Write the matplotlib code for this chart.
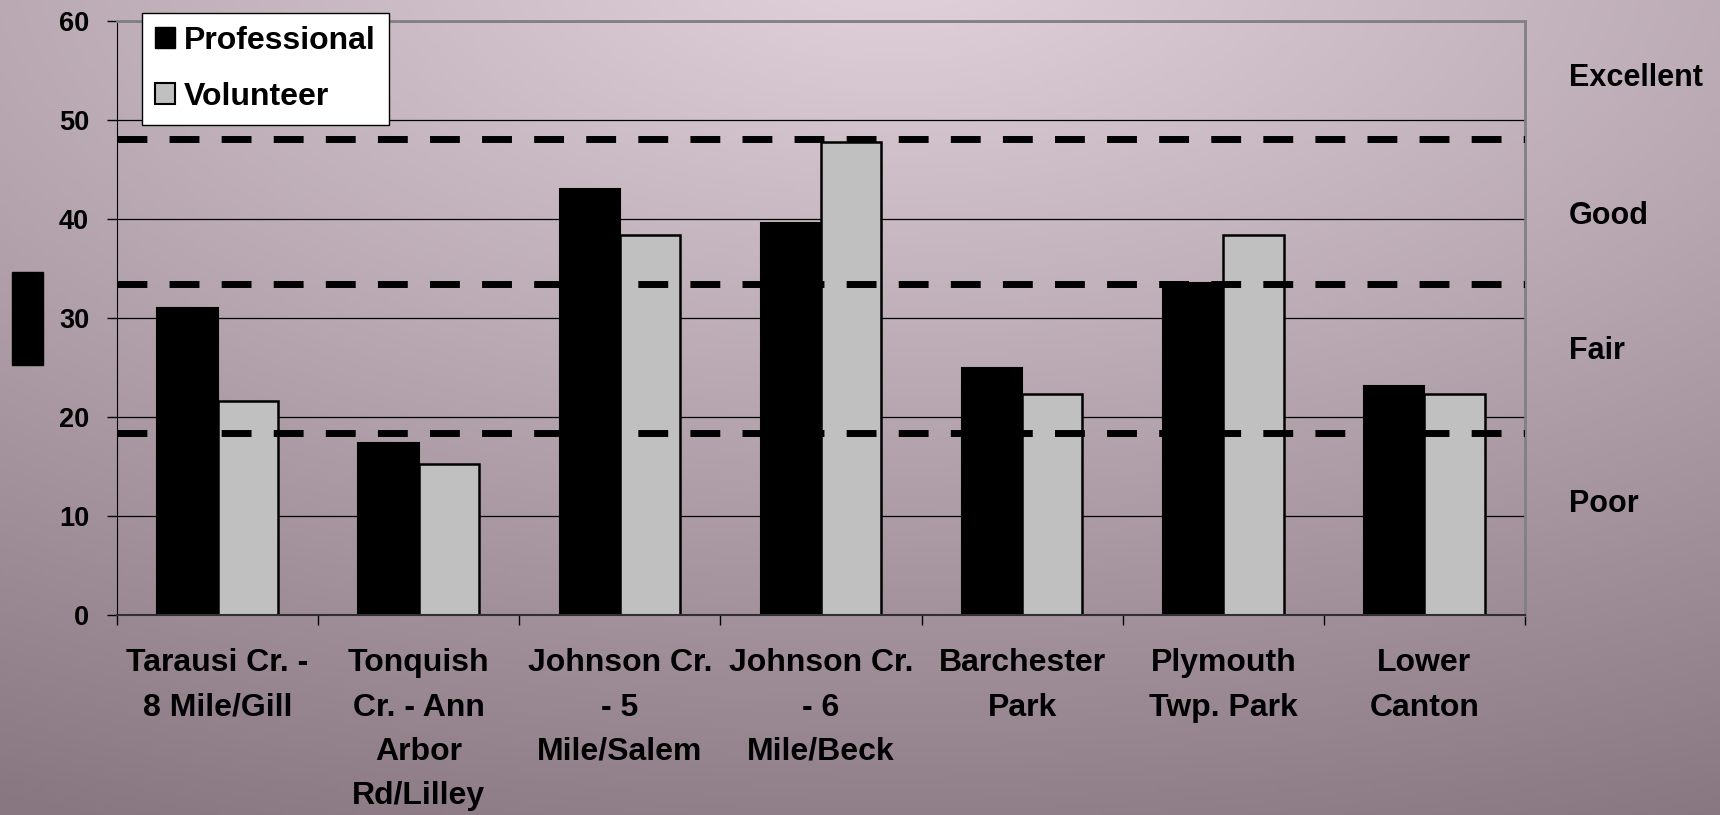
import numpy as np
import matplotlib
matplotlib.use("Agg")
import matplotlib.pyplot as plt
from matplotlib.patches import Patch, Rectangle

plt.rcParams['font.family'] = ['Liberation Sans', 'DejaVu Sans']
plt.rcParams['font.weight'] = 'bold'

# data
sites = ["Tarausi Cr. -\n8 Mile/Gill", "Tonquish\nCr. - Ann\nArbor\nRd/Lilley",
         "Johnson Cr.\n- 5\nMile/Salem", "Johnson Cr.\n- 6\nMile/Beck",
         "Barchester\nPark", "Plymouth\nTwp. Park", "Lower\nCanton"]
professional = [31.0, 17.4, 43.0, 39.6, 25.0, 33.5, 23.1]
volunteer = [21.6, 15.3, 38.4, 47.8, 22.3, 38.4, 22.3]
thresholds = [48.1, 33.4, 18.4]
ratings = ["Excellent", "Good", "Fair", "Poor"]
rating_y = [54.2, 40.3, 26.7, 11.2]
yticks = [0, 10, 20, 30, 40, 50, 60]

W, H = 1720, 815
fig = plt.figure(figsize=(W / 100, H / 100), dpi=100)

# background gradient
bg = fig.add_axes([0, 0, 1, 1], zorder=-10)
u, v = np.meshgrid(np.linspace(0, 1, 400), np.linspace(0, 1, 200))
d = np.sqrt((u - 0.52) ** 2 + (v + 0.05) ** 2)
t = np.clip(d / 1.16, 0, 1)[..., None]
light = np.array([226, 211, 221]) / 255
dark = np.array([136, 118, 128]) / 255
bg.imshow(light + (dark - light) * t, aspect='auto', extent=[0, 1, 0, 1], origin='upper')
bg.axis('off')

ax = fig.add_axes([117 / W, 1 - 615 / H, (1525 - 117) / W, (615 - 21) / H])
ax.set_facecolor('none')

x = np.arange(len(sites))
w = 0.30
ax.bar(x - w / 2, professional, w, color='black', edgecolor='black', linewidth=1.5,
       zorder=2, label='Professional')
ax.bar(x + w / 2, volunteer, w, color='#c0c0c0', edgecolor='black', linewidth=1.8,
       zorder=2, label='Volunteer')

for th in thresholds:
    ax.axhline(th, color='black', linewidth=5, dashes=(4.3, 3.2), zorder=3)

ax.set_xlim(-0.5, len(sites) - 0.5)
ax.set_ylim(0, 60)
ax.set_yticks(yticks)
ax.yaxis.grid(True, color='black', linewidth=0.9, zorder=0)
ax.set_axisbelow(True)
ax.tick_params(axis='y', direction='out', length=7, width=1, pad=13, labelsize=19.5)

ax.set_xticks(x)
ax.set_xticklabels(sites, fontsize=23, linespacing=1.62, va='top')
ax.set_xticks(np.arange(len(sites) + 1) - 0.5, minor=True)
ax.tick_params(axis='x', which='major', length=0, pad=24)
ax.tick_params(axis='x', which='minor', length=7, width=1, direction='out')

for side in ['top', 'right']:
    ax.spines[side].set_color('#808080')
    ax.spines[side].set_linewidth(2)
ax.spines['left'].set_color('black')
ax.spines['bottom'].set_color('#303030')
ax.spines['bottom'].set_linewidth(1.5)

for lab, yy in zip(ratings, rating_y):
    ax.text(1.031, yy, lab, transform=ax.get_yaxis_transform(), fontsize=22,
            fontweight='bold', va='center', ha='left')

handles = [Patch(facecolor='black', edgecolor='black', label='Professional'),
           Patch(facecolor='#c0c0c0', edgecolor='black', linewidth=1.5, label='Volunteer')]
leg = ax.legend(handles=handles, loc='upper left', bbox_to_anchor=(0.0178, 1.0135),
                borderaxespad=0, fancybox=False, framealpha=1, edgecolor='black',
                fontsize=23, handlelength=0.62, handleheight=0.62, handletextpad=0.3,
                borderpad=0.4, labelspacing=0.82)
leg.get_frame().set_linewidth(1)
leg.set_zorder(5)

# black block at left (hidden axis title)
fig.patches.append(Rectangle((12 / W, 1 - 365 / H), 31 / W, 93 / H,
                             transform=fig.transFigure, color='black'))

fig.savefig("out.png", dpi=100)
